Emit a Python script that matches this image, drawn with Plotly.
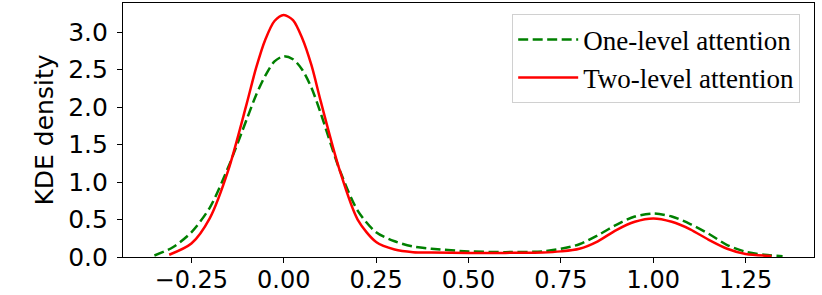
import plotly.graph_objects as go

# One-level attention (green dashed)
one_x = [-0.35, -0.30, -0.25, -0.20, -0.15, -0.10, -0.075, -0.05, -0.025, 0.00, 0.025, 0.05,
         0.075, 0.10, 0.15, 0.20, 0.25, 0.30, 0.35, 0.40, 0.50, 0.60, 0.70, 0.75, 0.80, 0.85,
         0.90, 0.95, 1.00, 1.05, 1.10, 1.15, 1.20, 1.25, 1.30, 1.35]
one_y = [0.02, 0.13, 0.33, 0.66, 1.20, 1.84, 2.16, 2.42, 2.61, 2.68, 2.64, 2.50,
         2.26, 1.92, 1.18, 0.62, 0.33, 0.21, 0.14, 0.11, 0.075, 0.065, 0.075, 0.11, 0.17, 0.29,
         0.43, 0.54, 0.58, 0.54, 0.44, 0.31, 0.16, 0.07, 0.03, 0.01]

# Two-level attention (red solid)
two_x = [-0.31, -0.25, -0.20, -0.15, -0.10, -0.075, -0.05, -0.025, 0.00, 0.025, 0.05,
         0.075, 0.10, 0.15, 0.20, 0.25, 0.30, 0.35, 0.40, 0.50, 0.60, 0.70, 0.75, 0.80,
         0.85, 0.90, 0.95, 1.00, 1.05, 1.10, 1.15, 1.20, 1.25, 1.32]
two_y = [0.03, 0.18, 0.52, 1.16, 2.05, 2.52, 2.90, 3.15, 3.23, 3.16, 2.92,
         2.56, 2.08, 1.18, 0.50, 0.20, 0.10, 0.065, 0.06, 0.055, 0.055, 0.06, 0.075, 0.11,
         0.21, 0.36, 0.47, 0.515, 0.47, 0.37, 0.23, 0.11, 0.04, 0.015]

x_ticks = [-0.25, 0.00, 0.25, 0.50, 0.75, 1.00, 1.25]
y_ticks = [0.0, 0.5, 1.0, 1.5, 2.0, 2.5, 3.0]

fig = go.Figure()
fig.add_trace(go.Scatter(x=one_x, y=one_y, mode="lines", name="One-level attention",
                         line=dict(color="green", width=2.5, dash="10px,4.5px", shape="spline", smoothing=0.8)))
fig.add_trace(go.Scatter(x=two_x, y=two_y, mode="lines", name="Two-level attention",
                         line=dict(color="red", width=2.5, shape="spline", smoothing=0.8)))

axis_common = dict(showline=True, linecolor="black", linewidth=1.2, mirror=True,
                   ticks="outside", ticklen=5, tickwidth=1.2, tickcolor="black",
                   showgrid=False, zeroline=False, automargin=False)

fig.update_layout(
    width=822, height=295,
    margin=dict(l=123, r=8, t=3, b=38),
    paper_bgcolor="white", plot_bgcolor="white",
    xaxis=dict(range=[-0.435, 1.435], tickvals=x_ticks, tickformat=".2f", ticklabelstandoff=-4,
               tickfont=dict(family="DejaVu Sans", size=24, color="black"),
               **axis_common),
    yaxis=dict(range=[0, 3.39], tickvals=y_ticks, tickformat=".1f", ticklabelstandoff=4,
               tickfont=dict(family="DejaVu Sans", size=25, color="black"),
               title=dict(text="KDE density", font=dict(family="DejaVu Sans", size=25, color="black"), standoff=7),
               **axis_common),
    legend=dict(x=0.98, y=0.955, xanchor="right", yanchor="top",
                bgcolor="white", bordercolor="#d0d0d0", borderwidth=1,
                font=dict(family="Liberation Serif", size=27, color="black"),
                tracegroupgap=0, itemwidth=60),
    showlegend=True,
)

fig.write_html("out.html", config={"displayModeBar": False},
               post_script="document.body.style.margin='0px';document.body.style.overflow='hidden';")
